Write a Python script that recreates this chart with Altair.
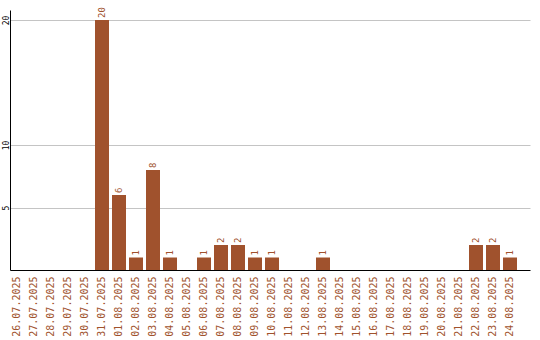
import altair as alt
import pandas as pd

dates = ["26.07.2025", "27.07.2025", "28.07.2025", "29.07.2025", "30.07.2025",
         "31.07.2025", "01.08.2025", "02.08.2025", "03.08.2025", "04.08.2025",
         "05.08.2025", "06.08.2025", "07.08.2025", "08.08.2025", "09.08.2025",
         "10.08.2025", "11.08.2025", "12.08.2025", "13.08.2025", "14.08.2025",
         "15.08.2025", "16.08.2025", "17.08.2025", "18.08.2025", "19.08.2025",
         "20.08.2025", "21.08.2025", "22.08.2025", "23.08.2025", "24.08.2025"]
counts = [0, 0, 0, 0, 0,
          20, 6, 1, 8, 1,
          0, 1, 2, 2, 1,
          1, 0, 0, 1, 0,
          0, 0, 0, 0, 0,
          0, 0, 2, 2, 1]
y_ticks = [5, 10, 20]

df = pd.DataFrame({"date": dates, "count": counts})
df["label"] = df["count"].astype(str)

BROWN = "#A0522D"
FONT = "DejaVu Sans Mono"

x_enc = alt.X("date:N", sort=dates, title=None,
              scale=alt.Scale(paddingInner=0.1765, paddingOuter=0.382, align=0),
              axis=alt.Axis(labelAngle=270, labelColor=BROWN, labelFont=FONT,
                            labelFontSize=10, ticks=False, labelPadding=6,
                            domainColor="black", domainWidth=1, grid=False,
                            labelOverlap=False))
y_enc = alt.Y("count:Q", title=None,
              scale=alt.Scale(domain=[0, 20.8], nice=False),
              axis=alt.Axis(values=y_ticks, labelAngle=270, labelColor="black",
                            labelFont=FONT, labelFontSize=8, ticks=False,
                            labelPadding=2, labelAlign="center",
                            labelBaseline="alphabetic",
                            domainColor="black", domainWidth=1,
                            grid=True, gridColor="#c4c4c4", gridWidth=1))

bars = alt.Chart(df).mark_bar(color=BROWN).encode(x=x_enc, y=y_enc)

texts = alt.Chart(df).transform_filter("datum.count > 0").mark_text(
    angle=270, align="left", baseline="middle", dx=2,
    color=BROWN, font=FONT, fontSize=9
).encode(x=alt.X("date:N", sort=dates), y=alt.Y("count:Q"), text="label:N")

chart = alt.layer(bars, texts).properties(
    width=520, height=260,
    padding={"left": 10, "top": 10, "right": 10, "bottom": 70},
    autosize=alt.AutoSizeParams(type="none"),
    background="white"
).configure_view(stroke=None)

chart.save("out.html", embed_options={"renderer": "svg", "actions": False})
